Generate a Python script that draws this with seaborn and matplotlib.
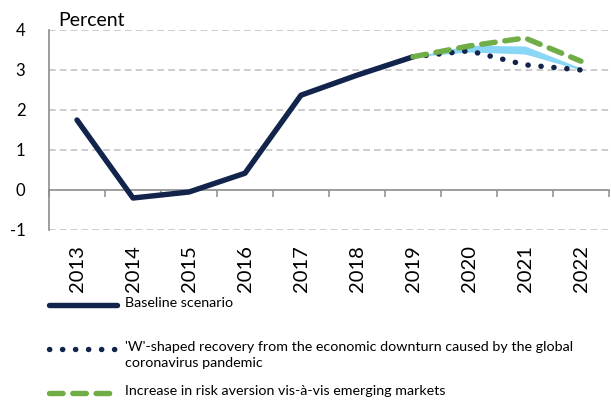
import numpy as np
import pandas as pd
import matplotlib
matplotlib.use("Agg")
import matplotlib.pyplot as plt
import seaborn as sns
from matplotlib.lines import Line2D

# Data
years = [2013, 2014, 2015, 2016, 2017, 2018, 2019, 2020, 2021, 2022]
baseline = [1.75, -0.20, -0.05, 0.42, 2.37, 2.87, 3.33]
forecast_years = [2019, 2020, 2021, 2022]
band_low = [3.33, 3.45, 3.40, 3.00]
band_high = [3.33, 3.62, 3.60, 3.05]
w_shaped = [3.33, 3.48, 3.13, 3.00]
risk_aversion = [3.33, 3.60, 3.80, 3.22]
y_ticks = [-1, 0, 1, 2, 3, 4]

labels = [
    "Baseline scenario",
    "'W'-shaped recovery from the economic downturn caused by the global\ncoronavirus pandemic",
    "Increase in risk aversion vis-à-vis emerging markets",
]

NAVY = "#12244b"
GREEN = "#70ad47"
LIGHT_BLUE = "#8ad6f7"
AXIS_GRAY = "#8c8c8c"
GRID_GRAY = "#c3c3c3"

sns.set_theme(style="white")
plt.rcParams["font.family"] = ["Lato", "DejaVu Sans"]
plt.rcParams["text.color"] = "black"
plt.rcParams["xtick.labelcolor"] = "black"
plt.rcParams["ytick.labelcolor"] = "black"

fig = plt.figure(figsize=(6.11, 4.03), dpi=100)
ax = fig.add_axes([49 / 611, 1 - 230 / 403, 560 / 611, 200 / 403])

hist_df = pd.DataFrame({"year": years[:len(baseline)], "value": baseline})
fc_df = pd.DataFrame({"year": forecast_years, "w": w_shaped, "risk": risk_aversion})

SOLID = dict(color=NAVY, linewidth=3.9, solid_capstyle="round")
DOTTED = dict(color=NAVY, linewidth=3.9, linestyle=(0, (0.05, 2.35)), dash_capstyle="round")
DASHED = dict(color=GREEN, linewidth=3.9, linestyle=(0, (2.5, 1.8)), dash_capstyle="round")

# light blue forecast band for the baseline
ax.fill_between(forecast_years, band_low, band_high, color=LIGHT_BLUE, linewidth=0, zorder=2)

sns.lineplot(data=hist_df, x="year", y="value", ax=ax, zorder=3, **SOLID)
sns.lineplot(data=fc_df, x="year", y="w", ax=ax, zorder=4, **DOTTED)
sns.lineplot(data=fc_df, x="year", y="risk", ax=ax, zorder=5, **DASHED)

ax.set_xlim(years[0] - 0.5, years[-1] + 0.5)
ax.set_ylim(y_ticks[0], y_ticks[-1])
ax.set_yticks(y_ticks)
ax.set_yticklabels([str(t) for t in y_ticks], fontsize=12)
ax.set_xticks(years)
ax.set_xticklabels([str(y) for y in years], rotation=90, fontsize=14.5)
ax.set_xlabel("")
ax.set_ylabel("")

ax.tick_params(axis="x", length=0, pad=11)
ax.tick_params(axis="y", length=5, width=1.1, color=AXIS_GRAY, pad=12, direction="out")

for side in ["top", "right", "bottom"]:
    ax.spines[side].set_visible(False)
ax.spines["left"].set_color(AXIS_GRAY)
ax.spines["left"].set_linewidth(1.2)

# dashed horizontal gridlines (the zero line is drawn as an axis instead)
for t in y_ticks:
    if t != 0:
        ax.axhline(t, color=GRID_GRAY, linewidth=1.2, linestyle=(0, (4, 2.5)), zorder=1)

# category axis at zero with tick marks between the years
zero_axis = ax.secondary_xaxis((0 - y_ticks[0]) / (y_ticks[-1] - y_ticks[0]))
zero_axis.set_xticks(np.arange(years[0] - 0.5, years[-1] + 1, 1.0))
zero_axis.set_xticklabels([])
zero_axis.tick_params(length=5, width=1.1, color=AXIS_GRAY, direction="out")
zero_axis.spines["bottom"].set_color(AXIS_GRAY)
zero_axis.spines["bottom"].set_linewidth(1.2)

fig.text(58 / 611, 1 - 20 / 403, "Percent", fontsize=14, va="center", ha="left")

# legend drawn below the plot
legend_rows = [305, 349, 393]
for style, row, label in zip([SOLID, DOTTED, DASHED], legend_rows, labels):
    y = 1 - row / 403
    fig.add_artist(Line2D([49 / 611, 117 / 611], [y, y], transform=fig.transFigure, **style))
    fig.text(125 / 611, y + 8 / 403, label, fontsize=10.3, va="top", ha="left",
             linespacing=1.42, transform=fig.transFigure)

fig.savefig("out.png", dpi=100)
